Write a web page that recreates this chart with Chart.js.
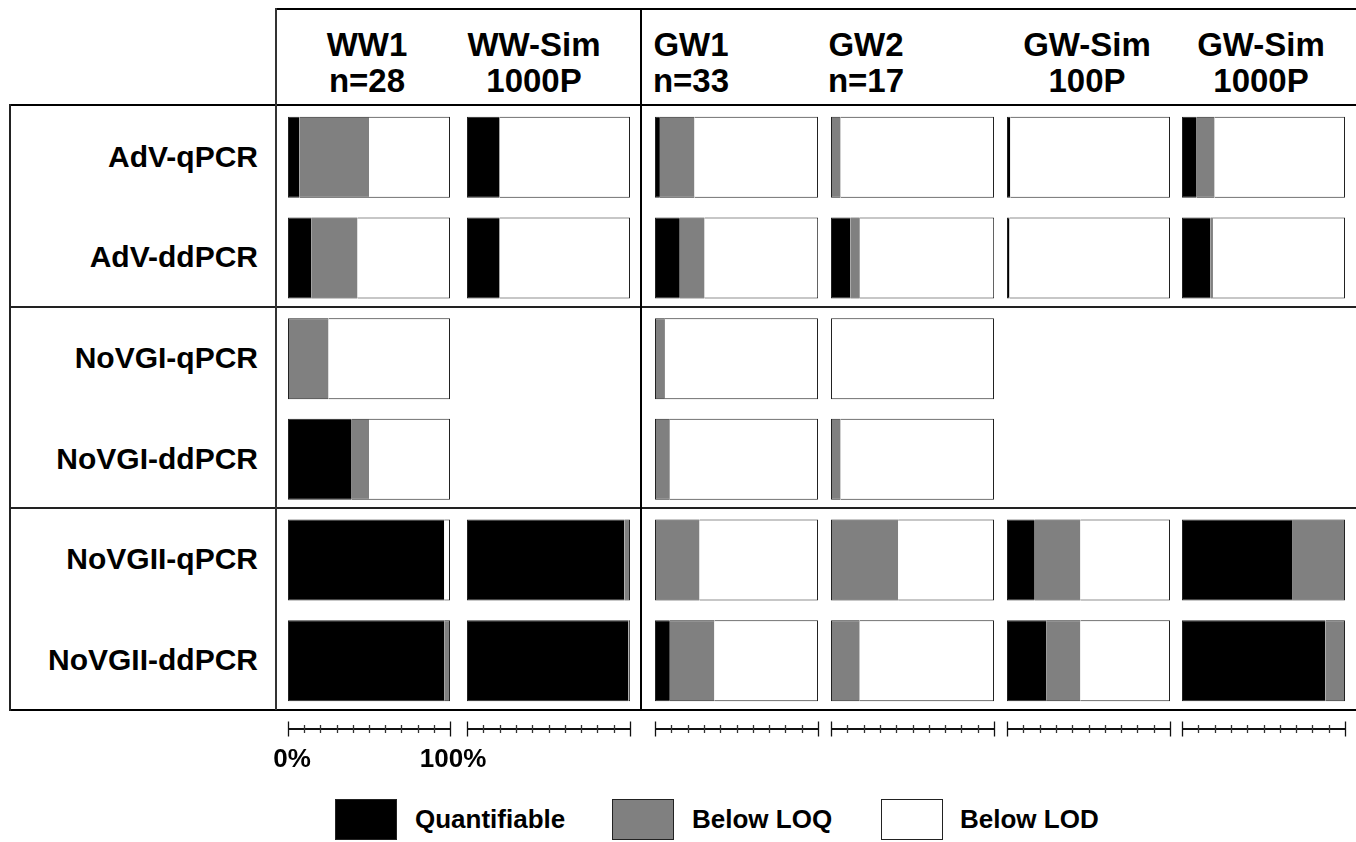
<!DOCTYPE html>
<html>
<head>
<meta charset="utf-8">
<script src="https://cdn.jsdelivr.net/npm/chart.js@4.4.1/dist/chart.umd.min.js"></script>
<style>
  html, body { margin:0; padding:0; background:#fff; }
  body { width:1356px; height:842px; position:relative; overflow:hidden;
         font-family:"Liberation Sans", Arial, Helvetica, sans-serif; font-weight:bold; color:#000; }
  .ln { position:absolute; background:#000; }
  .hdr { position:absolute; width:200px; text-align:center; font-size:33px; line-height:36px; }
  .rowlab { position:absolute; right:1098px; font-size:30px; white-space:nowrap; line-height:34px; }
  canvas { position:absolute; top:0; }
  .lgbox { position:absolute; top:799px; width:62px; height:41px; box-sizing:border-box; border:1.5px solid #222; }
  .lgtxt { position:absolute; top:803px; font-size:26px; line-height:32px; }
</style>
</head>
<body>
<script>
// ---- data (percent of samples) ----
const rowLabels = ["AdV-qPCR", "AdV-ddPCR", "NoVGI-qPCR", "NoVGI-ddPCR", "NoVGII-qPCR", "NoVGII-ddPCR"];
const columnTitles = [["WW1", "n=28"], ["WW-Sim", "1000P"], ["GW1", "n=33"], ["GW2", "n=17"], ["GW-Sim", "100P"], ["GW-Sim", "1000P"]];
const seriesNames = ["Quantifiable", "Below LOQ", "Below LOD"];
const tickLabels = ["0%", "100%"];

// one inner array per column, values in the order of rowLabels
const quantifiable = [
  [7.1, 14.3, 0, 39.3, 96.4, 96.4],
  [20, 20, null, null, 96.5, 99],
  [3.0, 15.2, 0, 0, 0, 9.1],
  [0, 11.8, 0, 0, 0, 0],
  [2, 1.5, null, null, 17, 24],
  [9, 17.5, null, null, 67.5, 88]
];
const belowLOQ = [
  [42.9, 28.6, 25, 10.7, 0, 3.6],
  [0, 0, null, null, 3.5, 1],
  [21.2, 15.2, 6.1, 9.1, 27.3, 27.3],
  [5.9, 5.9, 0, 5.9, 41.2, 17.6],
  [0, 0, null, null, 28, 21],
  [11, 1.5, null, null, 32.5, 12]
];
const belowLOD = [
  [50, 57.1, 75, 50, 3.6, 0],
  [80, 80, null, null, 0, 0],
  [75.8, 69.7, 93.9, 90.9, 72.7, 63.6],
  [94.1, 82.4, 100, 94.1, 58.8, 82.4],
  [98, 98.5, null, null, 55, 55],
  [80, 81, null, null, 0, 0]
];
const seriesColors = ["#000000", "#808080", "#ffffff"];

// ---- layout ----
const colLeft = [288, 467, 655, 831, 1007, 1182];
const colWidth = [162, 163, 163, 163, 163, 163];
const hdrCenter = [367, 534, 691, 866, 1087, 1261];
const rowLabelY = [140, 240, 341, 442, 542, 643];
const PADX = 40, CANVAS_H = 790, AREA_TOP = 107, AREA_BOTTOM = 711, XAXIS_H = 60;

function addDiv(cls, styles, text) {
  const d = document.createElement('div');
  d.className = cls;
  Object.assign(d.style, styles);
  if (text !== undefined) d.innerHTML = text;
  document.body.appendChild(d);
  return d;
}

// table lines
addDiv('ln', {left:'276px', top:'8px', width:'1080px', height:'2px'});
addDiv('ln', {left:'10px', top:'104px', width:'1346px', height:'2px'});
addDiv('ln', {left:'10px', top:'306px', width:'1346px', height:'1.5px', background:'#222'});
addDiv('ln', {left:'10px', top:'507px', width:'1346px', height:'1.5px', background:'#222'});
addDiv('ln', {left:'10px', top:'709px', width:'1346px', height:'2px'});
addDiv('ln', {left:'9px', top:'104px', width:'1.5px', height:'607px', background:'#222'});
addDiv('ln', {left:'275px', top:'8px', width:'1.5px', height:'702px', background:'#333'});
addDiv('ln', {left:'640px', top:'8px', width:'2px', height:'702px'});

// headers
columnTitles.forEach((t, i) => {
  addDiv('hdr', {left:(hdrCenter[i] - 100) + 'px', top:'27px'}, t[0] + '<br>' + t[1]);
});
// row labels
rowLabels.forEach((r, i) => {
  addDiv('rowlab', {top:rowLabelY[i] + 'px'}, r);
});
// legend
const lgBoxX = [335, 612, 881];
const lgTxtX = [415, 692, 960];
seriesNames.forEach((n, i) => {
  addDiv('lgbox', {left:lgBoxX[i] + 'px', background:seriesColors[i]});
  addDiv('lgtxt', {left:lgTxtX[i] + 'px'}, n);
});

// axis plugin: line with ticks drawn from the x scale
const pctAxis = {
  id: 'pctAxis',
  afterDraw(chart, args, opts) {
    const s = chart.scales.x, c = chart.ctx;
    const y = chart.chartArea.bottom + 18;
    const x0 = s.getPixelForValue(0), x1 = s.getPixelForValue(100);
    c.save();
    c.strokeStyle = '#111';
    c.lineWidth = 2;
    c.beginPath(); c.moveTo(x0, y); c.lineTo(x1, y); c.stroke();
    c.lineWidth = 1.3;
    s.ticks.forEach(t => {
      const px = Math.round(s.getPixelForValue(t.value)) + 0.5;
      const end = (t.value === 0 || t.value === 100);
      const h = end ? 7.5 : 4;
      c.strokeStyle = end ? '#111' : '#333';
      c.beginPath(); c.moveTo(px, y - h); c.lineTo(px, y + h); c.stroke();
    });
    if (opts.showLabels) {
      c.fillStyle = '#000';
      c.font = 'bold 26px "Liberation Sans", Arial, sans-serif';
      c.textAlign = 'center';
      c.textBaseline = 'middle';
      c.fillText(tickLabels[0], s.getPixelForValue(0) + 4, y + 31);
      c.fillText(tickLabels[1], s.getPixelForValue(100) + 3, y + 31);
    }
    c.restore();
  }
};

function segBorder(ctx) {
  const i = ctx.dataIndex, k = ctx.datasetIndex;
  if (i === undefined) return 1;
  const ds = ctx.chart.data.datasets;
  const v = j => +(ds[j].data[i] || 0);
  let first = true, last = true;
  for (let j = 0; j < k; j++) if (v(j) > 0) first = false;
  for (let j = k + 1; j < ds.length; j++) if (v(j) > 0) last = false;
  return {top:1, bottom:1, left:first ? 1 : 0, right:last ? 1 : 0};
}

const seriesData = [quantifiable, belowLOQ, belowLOD];

colLeft.forEach((left, ci) => {
  const cv = document.createElement('canvas');
  const w = colWidth[ci] + 2 * PADX;
  cv.width = w; cv.height = CANVAS_H;
  cv.style.left = (left - PADX) + 'px';
  cv.style.width = w + 'px'; cv.style.height = CANVAS_H + 'px';
  document.body.appendChild(cv);
  new Chart(cv, {
    type: 'bar',
    data: {
      labels: rowLabels,
      datasets: seriesNames.map((n, si) => ({
        label: n,
        data: seriesData[si][ci],
        backgroundColor: seriesColors[si],
        borderColor: '#222',
        borderWidth: segBorder,
        borderSkipped: false,
        barThickness: 81,
        inflateAmount: 0
      }))
    },
    options: {
      indexAxis: 'y',
      responsive: false,
      animation: false,
      devicePixelRatio: 1,
      layout: { padding: { left: PADX, right: PADX, top: AREA_TOP, bottom: CANVAS_H - AREA_BOTTOM - XAXIS_H } },
      plugins: { legend: { display: false }, tooltip: { enabled: false }, pctAxis: { showLabels: ci === 0 } },
      scales: {
        x: {
          stacked: true, min: 0, max: 100,
          grid: { display: false, drawTicks: false },
          border: { display: false },
          ticks: { stepSize: 10, autoSkip: false, maxRotation: 0, display: false },
          afterFit: (scale) => { scale.height = XAXIS_H; }
        },
        y: { stacked: true, display: false }
      }
    },
    plugins: [pctAxis]
  });
});
</script>
</body>
</html>
